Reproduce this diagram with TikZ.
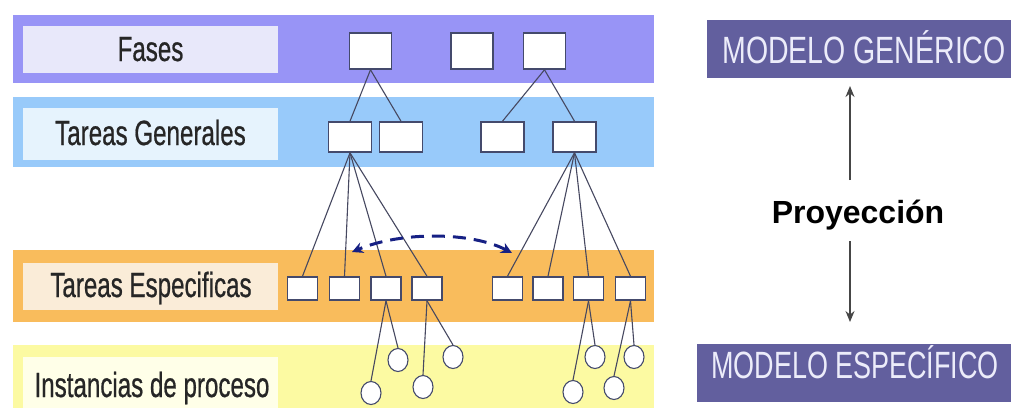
\documentclass[tikz,border=0pt]{standalone}
\usepackage{fontspec}
\usepackage{graphicx}
\setmainfont{Liberation Sans}
\usetikzlibrary{arrows.meta,shapes.geometric}

\definecolor{faseband}{RGB}{152,148,246}
\definecolor{faselabel}{RGB}{232,232,250}
\definecolor{genband}{RGB}{152,202,250}
\definecolor{genlabel}{RGB}{230,243,253}
\definecolor{espband}{RGB}{249,188,92}
\definecolor{esplabel}{RGB}{250,236,216}
\definecolor{instband}{RGB}{252,250,162}
\definecolor{instlabel}{RGB}{255,255,232}
\definecolor{modelfill}{RGB}{98,95,158}
\definecolor{modeltext}{RGB}{236,236,250}
\definecolor{boxline}{RGB}{68,74,108}
\definecolor{linkline}{RGB}{70,72,96}
\definecolor{swapblue}{RGB}{22,32,132}
\definecolor{projgray}{RGB}{70,70,70}

\newcommand\condensed[1]{\scalebox{0.69}[1]{#1}}

\tikzset{
  bandlabel/.style={anchor=base, inner sep=0pt, text=black!85,
    font=\fontsize{35}{40}\selectfont\addfontfeature{FakeBold=0.8}},
  taskbox/.style={draw=boxline, line width=1.6pt, fill=white, inner sep=0pt},
  phasebox/.style={taskbox, minimum width=42pt, minimum height=36pt},
  genbox/.style={taskbox, minimum width=43pt, minimum height=30pt},
  specbox/.style={taskbox, minimum width=30pt, minimum height=23pt},
  instance/.style={draw=boxline, line width=1.1pt, fill=white, ellipse,
    inner sep=0pt, minimum width=20pt, minimum height=23pt},
  link/.style={draw=linkline, line width=1.1pt},
  modelbox/.style={fill=modelfill, inner sep=0pt},
  modeltitle/.style={anchor=base, inner sep=0pt, text=modeltext,
    font=\fontsize{38}{44}\selectfont},
  projarrow/.style={draw=projgray, line width=1.4pt,
    -{Stealth[length=11pt,width=9pt]}},
  swaparrow/.style={draw=swapblue, line width=3pt, dash pattern=on 13pt off 8pt,
    {Stealth[length=11pt,width=11pt]}-{Stealth[length=11pt,width=11pt]}}
}

\begin{document}
\begin{tikzpicture}[x=1pt, y=-1pt]
\useasboundingbox (0,0) rectangle (1011,408);

% level bands with their label panels
\fill[faseband] (13,15) rectangle (654,83);
\fill[faselabel] (23,26) rectangle (278,73);
\fill[genband] (13,97) rectangle (654,167);
\fill[genlabel] (23,108) rectangle (278,160);
\fill[espband] (13,250) rectangle (654,322);
\fill[esplabel] (23,263) rectangle (278,310);
\fill[instband] (13,345) rectangle (654,408);
\fill[instlabel] (23,357) rectangle (278,408);

\node[bandlabel] (lfases) at (150.5,61) {\condensed{Fases}};
\node[bandlabel] (lgen) at (150.5,145) {\condensed{Tareas Generales}};
\node[bandlabel] (lesp) at (151,297) {\condensed{Tareas Especificas}};
\node[bandlabel] (linst) at (152,397) {\condensed{Instancias de proceso}};

% phases
\node[phasebox] (f1) at (370.5,51) {};
\node[phasebox] (f2) at (472,51) {};
\node[phasebox] (f3) at (544.5,51) {};

% general tasks
\node[genbox] (g1) at (350,137) {};
\node[genbox] (g2) at (401,137) {};
\node[genbox] (g3) at (502.5,137) {};
\node[genbox] (g4) at (574.5,137) {};

% specific tasks
\node[specbox] (s1) at (302.5,288.5) {};
\node[specbox] (s2) at (344.5,288.5) {};
\node[specbox] (s3) at (386,288.5) {};
\node[specbox] (s4) at (427,288.5) {};
\node[specbox] (s5) at (507.5,288.5) {};
\node[specbox] (s6) at (548,288.5) {};
\node[specbox] (s7) at (588.5,288.5) {};
\node[specbox] (s8) at (630.5,288.5) {};

% process instances
\node[instance] (i1) at (371,393) {};
\node[instance] (i2) at (398,360) {};
\node[instance] (i3) at (423,387) {};
\node[instance] (i4) at (453,357) {};
\node[instance] (i5) at (573,392) {};
\node[instance] (i6) at (595,357) {};
\node[instance] (i7) at (614,388) {};
\node[instance] (i8) at (634,357) {};

% decomposition links
\foreach \p/\c in {f1/g1, f1/g2, f3/g3, f3/g4,
                   g1/s1, g1/s2, g1/s3, g1/s4,
                   g4/s5, g4/s6, g4/s7, g4/s8,
                   s3/i1, s3/i2, s4/i3, s4/i4,
                   s7/i5, s7/i6, s8/i7, s8/i8}
  \draw[link] (\p.south) -- (\c.north);

% correspondence between the two groups of specific tasks
\coordinate (swapR) at (512,253);
\coordinate (swapL) at (352,252);
\draw[swaparrow] (swapR) .. controls (472,232) and (402,231) .. (swapL);

% generic / specific model
\fill[modelbox] (707,20) rectangle (1011,78);
\node[modeltitle] (mgen) at (864,63) {\scalebox{0.75}[1]{MODELO GENÉRICO}};
\fill[modelbox] (697,344) rectangle (1011,402);
\node[modeltitle] (mesp) at (855,378) {\scalebox{0.71}[1]{MODELO ESPECÍFICO}};

\node[anchor=base, inner sep=0pt, font=\fontsize{32}{36}\selectfont\bfseries]
  (proj) at (858,223) {Proyección};
\coordinate (upA) at (850,180);
\coordinate (upB) at (850,86);
\coordinate (dnA) at (850,241);
\coordinate (dnB) at (850,322);
\draw[projarrow] (upA) -- (upB);
\draw[projarrow] (dnA) -- (dnB);
\end{tikzpicture}
\end{document}
